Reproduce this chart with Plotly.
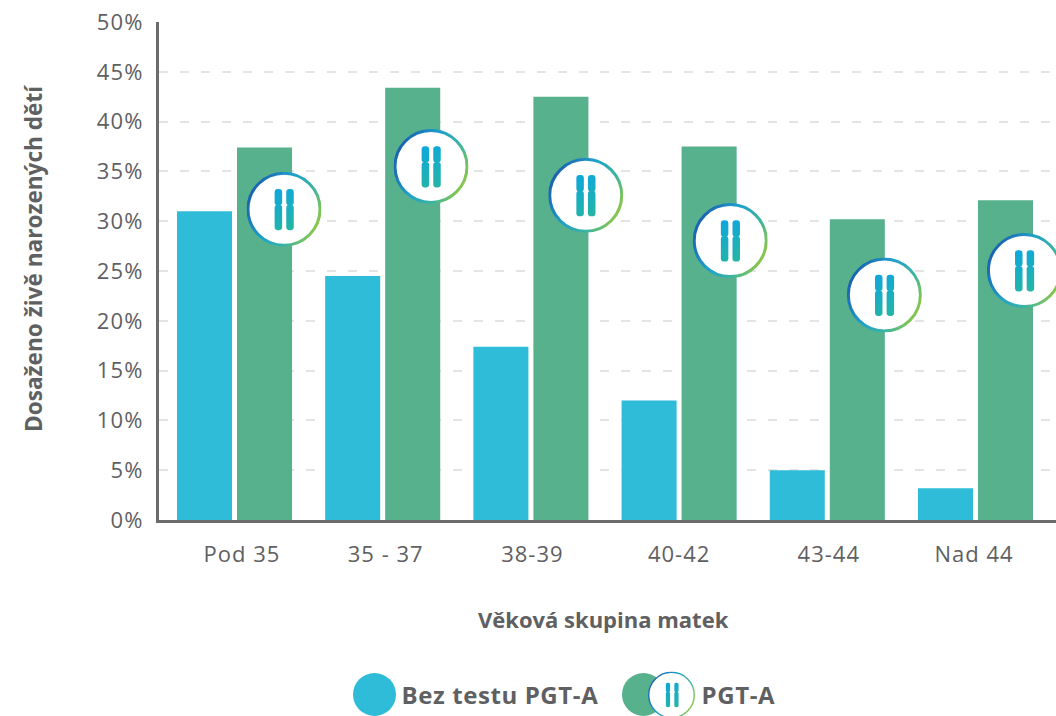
import base64
import plotly.graph_objects as go

categories = ["Pod 35", "35 - 37", "38-39", "40-42", "43-44", "Nad 44"]
bez_testu = [31.0, 24.5, 17.4, 12.0, 5.0, 3.2]
pgt_a = [37.4, 43.4, 42.5, 37.5, 30.2, 32.1]
series_names = ["Bez testu PGT-A", "PGT-A"]
y_ticks = [0, 5, 10, 15, 20, 25, 30, 35, 40, 45, 50]
category_index = [0, 1, 2, 3, 4, 5]
tick_x = [0.05, 1.02, 2.01, 3.0, 4.01, 4.99]
badge_x = [0.334, 1.326, 2.37, 3.345, 4.385, 5.33]
badge_y = [31.2, 35.5, 32.6, 28.05, 22.6, 25.05]
x_title = "Věková skupina matek"
y_title = "Dosaženo živě narozených dětí"

BLUE = "#2fbcd9"
GREEN = "#56b18c"
TEXT = "#5f6062"
AXIS = "#6b6b6b"
FONT = "Open Sans"

LEFT, TOP, BOTTOM = 159, 22, 520
PLOT_W, PLOT_H = 1056 - LEFT, BOTTOM - TOP
PX_PER_CAT = 148.2
PX_PER_PCT = PLOT_H / 50
X0 = -(234.5 - LEFT) / PX_PER_CAT


def px(x):
    return (x - LEFT) / PLOT_W


def py(y):
    return (BOTTOM - y) / PLOT_H


def badge_svg(ring, cw, c1, c2, top, bottom, waist):
    r = 50 - ring / 2
    parts = ""
    for cx in (c1, c2):
        parts += (f'<rect x="{cx}" y="{top}" width="{cw}" height="{waist - top}" rx="{cw * 0.42}" fill="url(#c)"/>'
                  f'<rect x="{cx}" y="{waist - 1}" width="{cw}" height="{bottom - waist + 1}" rx="{cw * 0.42}" fill="url(#c)"/>')
    return f'''<svg xmlns="http://www.w3.org/2000/svg" width="300" height="300" viewBox="0 0 100 100">
<defs>
<linearGradient id="r" x1="0" y1="0.25" x2="1" y2="0.75">
<stop offset="0" stop-color="#1a5cae"/><stop offset="0.4" stop-color="#1f9fcb"/><stop offset="0.72" stop-color="#3cb5a0"/><stop offset="1" stop-color="#97c93d"/>
</linearGradient>
<linearGradient id="c" gradientUnits="userSpaceOnUse" x1="36" y1="22" x2="64" y2="80">
<stop offset="0" stop-color="#0da6e0"/><stop offset="1" stop-color="#27b6a0"/>
</linearGradient>
</defs>
<circle cx="50" cy="50" r="{r}" fill="#fff" stroke="url(#r)" stroke-width="{ring}"/>
{parts}
</svg>'''


def uri(svg):
    return "data:image/svg+xml;base64," + base64.b64encode(svg.encode()).decode()


BADGE = uri(badge_svg(4, 10, 37.5, 53, 23, 78, 45))
LEGEND_BADGE = uri(badge_svg(3, 9, 38, 56, 24, 76, 44))

fig = go.Figure()
fig.add_bar(name=series_names[0], x=category_index, y=bez_testu, marker_color=BLUE, marker_line_width=0)
fig.add_bar(name=series_names[1], x=category_index, y=pgt_a, marker_color=GREEN, marker_line_width=0)

images = [
    dict(source=BADGE, xref="x", yref="y", x=x, y=y, sizex=75 / PX_PER_CAT, sizey=75 / PX_PER_PCT,
         xanchor="center", yanchor="middle", sizing="contain", layer="above")
    for x, y in zip(badge_x, badge_y)
]
images.append(dict(source=LEGEND_BADGE, xref="paper", yref="paper", x=px(671.5), y=py(695),
                   sizex=47 / PLOT_W, sizey=47 / PLOT_H, xanchor="center", yanchor="middle",
                   sizing="contain", layer="above"))

fig.update_layout(
    width=1056, height=716, autosize=False,
    margin=dict(l=LEFT, r=0, t=TOP, b=716 - BOTTOM),
    paper_bgcolor="white", plot_bgcolor="white",
    barmode="group", bargap=0.19, bargroupgap=0.083,
    showlegend=False,
    font=dict(family=FONT, color=TEXT, size=22),
    images=images,
    xaxis=dict(
        range=[X0, X0 + PLOT_W / PX_PER_CAT],
        tickvals=tick_x, ticktext=categories,
        showline=True, linecolor=AXIS, linewidth=3,
        showgrid=False, zeroline=False,
        ticks="outside", ticklen=13, tickcolor="rgba(0,0,0,0)",
        tickfont=dict(size=22, color=TEXT),
    ),
    yaxis=dict(
        range=[0, 50], tickvals=y_ticks, ticktext=[f"{v}%" for v in y_ticks],
        showline=True, linecolor=AXIS, linewidth=3,
        showgrid=True, gridcolor="#e4e4e4", gridwidth=1.5, griddash="9px,12px", zeroline=False,
        ticks="outside", ticklen=8, tickcolor="rgba(0,0,0,0)",
        tickfont=dict(size=22, color=TEXT),
    ),
    shapes=[
        dict(type="circle", xref="paper", yref="paper", x0=px(353), x1=px(396),
             y0=py(716), y1=py(673), fillcolor=BLUE, line_width=0, layer="below"),
        dict(type="circle", xref="paper", yref="paper", x0=px(622), x1=px(665),
             y0=py(716), y1=py(673), fillcolor=GREEN, line_width=0, layer="below"),
    ],
    annotations=[
        dict(text=f"<b>{series_names[0]}</b>", xref="paper", yref="paper", x=px(404), y=py(694),
             xanchor="left", yanchor="middle", showarrow=False, font=dict(size=24, color=TEXT)),
        dict(text=f"<b>{series_names[1]}</b>", xref="paper", yref="paper", x=px(701), y=py(694),
             xanchor="left", yanchor="middle", showarrow=False, font=dict(size=24, color=TEXT)),
        dict(text=f"<b>{x_title}</b>", xref="paper", yref="paper", x=px(603.5), y=py(619),
             xanchor="center", yanchor="middle", showarrow=False, font=dict(size=22, color=TEXT)),
        dict(text=f"<b>{y_title}</b>", xref="paper", yref="paper", x=px(33), y=py(259), textangle=-90,
             xanchor="center", yanchor="middle", showarrow=False, font=dict(size=22.6, color=TEXT)),
    ],
)

post = """
document.body.style.margin='0';document.body.style.overflow='hidden';
document.head.insertAdjacentHTML('beforeend','<style>.xtick text{letter-spacing:1px}.ytick text{letter-spacing:1.2px}.annotation[data-index="0"] text,.annotation[data-index="1"] text{letter-spacing:.6px}</style>');
"""
fig.write_html("out.html", post_script=post, config={"displayModeBar": False})
